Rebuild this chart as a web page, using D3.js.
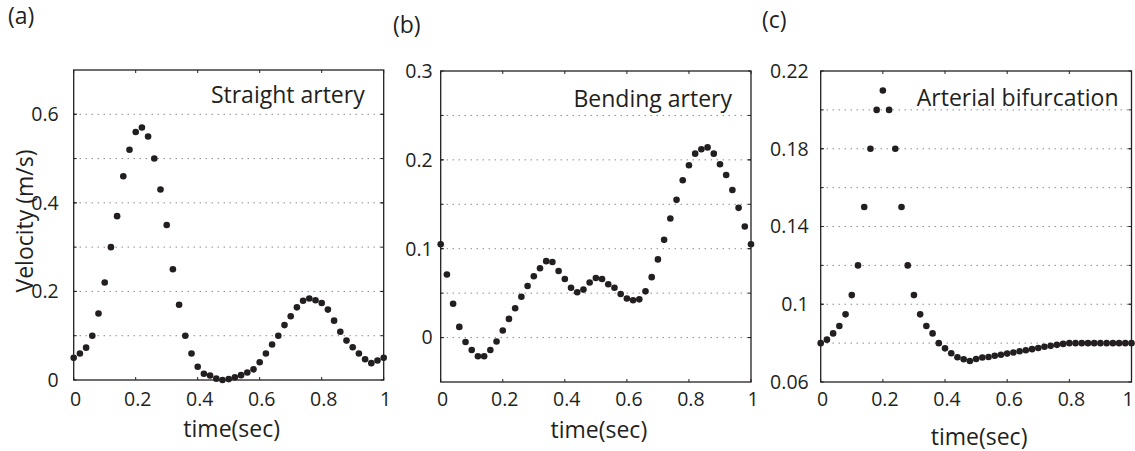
<!DOCTYPE html>
<html>
<head>
<meta charset="utf-8">
<script src="https://cdn.jsdelivr.net/npm/d3@7"></script>
<style>
  body { margin: 0; background: #ffffff; }
  svg text { font-family: "Open Sans", sans-serif; fill: #231f20; }
</style>
</head>
<body>
<div id="chart"></div>
<script>
// sample times (s)
const timeSec = [0, 0.02, 0.04, 0.06, 0.08, 0.1, 0.12, 0.14, 0.16, 0.18,
  0.2, 0.22, 0.24, 0.26, 0.28, 0.3, 0.32, 0.34, 0.36, 0.38,
  0.4, 0.42, 0.44, 0.46, 0.48, 0.5, 0.52, 0.54, 0.56, 0.58,
  0.6, 0.62, 0.64, 0.66, 0.68, 0.7, 0.72, 0.74, 0.76, 0.78,
  0.8, 0.82, 0.84, 0.86, 0.88, 0.9, 0.92, 0.94, 0.96, 0.98, 1];

// velocity (m/s) for each case
const straightVelocity = [0.05, 0.06, 0.073, 0.10, 0.15, 0.22, 0.30, 0.37, 0.46, 0.52,
  0.56, 0.57, 0.55, 0.50, 0.43, 0.35, 0.25, 0.17, 0.10, 0.06,
  0.03, 0.014, 0.01, 0.003, 0.0, 0.002, 0.006, 0.011, 0.017, 0.024,
  0.04, 0.06, 0.08, 0.10, 0.124, 0.144, 0.164, 0.179, 0.184, 0.18,
  0.174, 0.159, 0.134, 0.109, 0.089, 0.074, 0.06, 0.047, 0.038, 0.044, 0.05];

const bendingVelocity = [0.105, 0.071, 0.038, 0.012, -0.005, -0.014, -0.021, -0.021, -0.014, -0.0045,
  0.008, 0.021, 0.033, 0.046, 0.058, 0.069, 0.078, 0.086, 0.085, 0.075,
  0.066, 0.056, 0.051, 0.054, 0.062, 0.067, 0.066, 0.060, 0.056, 0.049,
  0.044, 0.042, 0.043, 0.052, 0.068, 0.088, 0.110, 0.134, 0.155, 0.177,
  0.194, 0.207, 0.212, 0.214, 0.207, 0.195, 0.183, 0.166, 0.146, 0.125, 0.105];

const bifurcationVelocity = [0.080, 0.0818, 0.085, 0.0888, 0.0948, 0.1047, 0.12, 0.15, 0.18, 0.20,
  0.21, 0.20, 0.18, 0.15, 0.12, 0.1047, 0.0948, 0.0888, 0.085, 0.080,
  0.0773, 0.0748, 0.0727, 0.0717, 0.0708, 0.0718, 0.0726, 0.0729, 0.0735, 0.0740,
  0.0746, 0.0752, 0.0758, 0.0763, 0.0769, 0.0775, 0.0781, 0.0786, 0.0791, 0.0796,
  0.080, 0.080, 0.080, 0.080, 0.080, 0.080, 0.080, 0.080, 0.080, 0.080, 0.080];

// axis ticks
const xTicks = [0, 0.2, 0.4, 0.6, 0.8, 1];
const straightYTicks = [0, 0.2, 0.4, 0.6];
const straightYGrid = [0.1, 0.2, 0.3, 0.4, 0.5, 0.6];
const bendingYTicks = [0, 0.1, 0.2, 0.3];
const bendingYGrid = [0, 0.05, 0.1, 0.15, 0.2, 0.25];
const bifurcationYTicks = [0.06, 0.1, 0.14, 0.18, 0.22];
const bifurcationYGrid = [0.08, 0.1, 0.12, 0.14, 0.16, 0.18, 0.2];

const ink = '#231f20';
const W = 1135, H = 451;

const svg = d3.select('#chart')
  .append('svg')
  .attr('width', W)
  .attr('height', H);

const panels = [
  { tag: '(a)', tagX: 8, tagY: 24, title: 'Straight artery', titleRight: 19, titleY: 103,
    x0: 73.7, x1: 383.7, y0: 70, y1: 380, domain: [0, 0.7], values: straightVelocity,
    yTicks: straightYTicks, yGrid: straightYGrid, labelGap: 15, xLabelY: 437, ylabel: true },
  { tag: '(b)', tagX: 393, tagY: 33, title: 'Bending artery', titleRight: 19, titleY: 107,
    x0: 440.7, x1: 751, y0: 71, y1: 382, domain: [-0.05, 0.3], values: bendingVelocity,
    yTicks: bendingYTicks, yGrid: bendingYGrid, labelGap: 8, xLabelY: 438 },
  { tag: '(c)', tagX: 762, tagY: 28, title: 'Arterial bifurcation', titleRight: 13, titleY: 106,
    x0: 820.7, x1: 1131.5, y0: 71, y1: 382, domain: [0.06, 0.22], values: bifurcationVelocity,
    yTicks: bifurcationYTicks, yGrid: bifurcationYGrid, labelGap: 12, xLabelY: 445 }
];

panels.forEach(p => drawPanel(p));

function drawPanel(p) {
  const x = d3.scaleLinear().domain([0, 1]).range([p.x0, p.x1]);
  const y = d3.scaleLinear().domain(p.domain).range([p.y1, p.y0]);
  const g = svg.append('g');

  // dotted horizontal grid
  g.selectAll('.grid')
    .data(p.yGrid.filter(v => v > p.domain[0] && v < p.domain[1]))
    .enter()
    .append('line')
    .attr('x1', p.x0).attr('x2', p.x1)
    .attr('y1', d => y(d)).attr('y2', d => y(d))
    .attr('stroke', '#555')
    .attr('stroke-width', 1)
    .attr('stroke-dasharray', '1,5');

  // short inward ticks on all four sides
  const tl = 3;
  xTicks.forEach(t => {
    g.append('line').attr('x1', x(t)).attr('x2', x(t)).attr('y1', p.y1).attr('y2', p.y1 - tl).attr('stroke', ink);
    g.append('line').attr('x1', x(t)).attr('x2', x(t)).attr('y1', p.y0).attr('y2', p.y0 + tl).attr('stroke', ink);
  });
  p.yGrid.concat(p.yTicks).forEach(t => {
    g.append('line').attr('x1', p.x0).attr('x2', p.x0 + tl).attr('y1', y(t)).attr('y2', y(t)).attr('stroke', ink);
    g.append('line').attr('x1', p.x1).attr('x2', p.x1 - tl).attr('y1', y(t)).attr('y2', y(t)).attr('stroke', ink);
  });

  // frame
  g.append('rect')
    .attr('x', p.x0).attr('y', p.y0)
    .attr('width', p.x1 - p.x0).attr('height', p.y1 - p.y0)
    .attr('fill', 'none')
    .attr('stroke', ink)
    .attr('stroke-width', 1.3);

  // tick labels
  g.selectAll('.xlab')
    .data(xTicks)
    .enter()
    .append('text')
    .attr('x', d => Math.min(x(d) + 2, W - 7))
    .attr('y', 406)
    .attr('text-anchor', 'middle')
    .style('font-size', '19.5px')
    .text(d => d3.format('~g')(d));

  g.selectAll('.ylab')
    .data(p.yTicks)
    .enter()
    .append('text')
    .attr('x', p.x0 - p.labelGap)
    .attr('y', d => y(d))
    .attr('dy', '0.35em')
    .attr('text-anchor', 'end')
    .style('font-size', '19.5px')
    .text(d => d3.format('~g')(d));

  // axis titles
  g.append('text')
    .attr('x', (p.x0 + p.x1) / 2 + 3)
    .attr('y', p.xLabelY)
    .attr('text-anchor', 'middle')
    .style('font-size', '23px')
    .text('time(sec)');

  if (p.ylabel) {
    g.append('text')
      .attr('transform', 'translate(33,221) rotate(-90)')
      .attr('text-anchor', 'middle')
      .style('font-size', '23px')
      .text('Velocity (m/s)');
  }

  // annotation and panel tag
  g.append('text')
    .attr('x', p.x1 - p.titleRight)
    .attr('y', p.titleY)
    .attr('text-anchor', 'end')
    .style('font-size', '23px')
    .text(p.title);

  svg.append('text')
    .attr('x', p.tagX)
    .attr('y', p.tagY)
    .style('font-size', '23px')
    .text(p.tag);

  // data points
  g.selectAll('.pt')
    .data(timeSec.map((t, i) => [t, p.values[i]]))
    .enter()
    .append('circle')
    .attr('cx', d => x(d[0]))
    .attr('cy', d => y(d[1]))
    .attr('r', 3.3)
    .attr('fill', ink);
}
</script>
</body>
</html>
